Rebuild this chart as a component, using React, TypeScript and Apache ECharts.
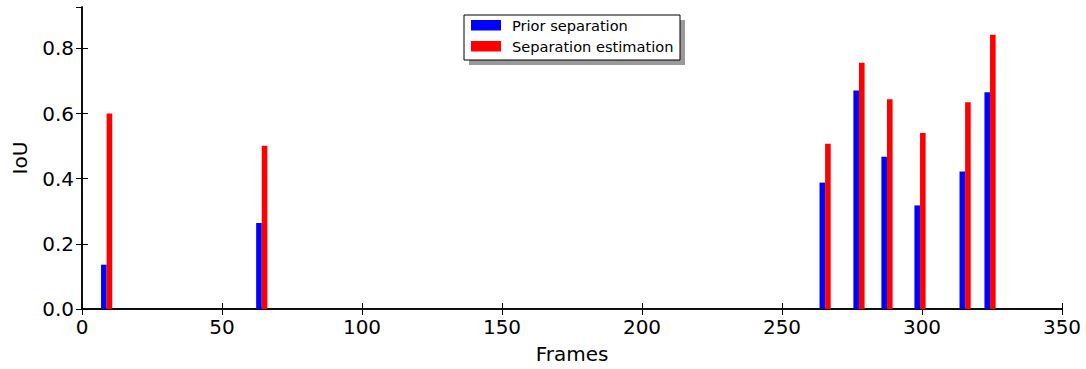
import React, { useEffect, useRef } from "react";
import * as echarts from "echarts";

const frames = [8.8, 64.2, 265.4, 277.5, 287.5, 299.3, 315.4, 324.3];
const priorSeparation = [0.136, 0.264, 0.388, 0.671, 0.467, 0.318, 0.422, 0.665];
const separationEstimation = [0.6, 0.501, 0.507, 0.756, 0.644, 0.54, 0.635, 0.842];
const seriesNames = ["Prior separation", "Separation estimation"];
const seriesColors = ["#0000ff", "#ff0000"];

const FONT = "DejaVu Sans";

export default function App() {
  const ref = useRef<HTMLDivElement>(null);
  useEffect(() => {
    if (!ref.current) return;
    const chart = echarts.init(ref.current, undefined, { renderer: "svg" });
    const tickCommon = {
      show: true,
      inside: true,
      length: 6,
      lineStyle: { color: "#000", width: 1 },
    };
    const lineCommon = { show: true, lineStyle: { color: "#000", width: 1.5 } };
    const legendX = 464;
    const legendY = 15;
    chart.setOption({
      animation: false,
      backgroundColor: "#fff",
      grid: { left: 82, right: 24, top: 7, bottom: 58, containLabel: false },
      xAxis: [
        {
          type: "value",
          min: 0,
          max: 350,
          interval: 50,
          position: "bottom",
          axisLine: lineCommon,
          axisTick: tickCommon,
          splitLine: { show: false },
          axisLabel: { color: "#000", fontSize: 20, fontFamily: FONT, margin: 8 },
          name: "Frames",
          nameLocation: "middle",
          nameGap: 35,
          nameTextStyle: { color: "#000", fontSize: 20, fontFamily: FONT },
        },
        {
          type: "value",
          min: 0,
          max: 350,
          interval: 50,
          position: "top",
          axisLine: lineCommon,
          axisTick: tickCommon,
          splitLine: { show: false },
          axisLabel: { show: false },
        },
      ],
      yAxis: [
        {
          type: "value",
          min: 0,
          max: 0.927,
          interval: 0.2,
          position: "left",
          axisLine: lineCommon,
          axisTick: tickCommon,
          splitLine: { show: false },
          axisLabel: {
            color: "#000",
            fontSize: 20,
            fontFamily: FONT,
            margin: 8,
            showMaxLabel: false,
            formatter: (v: number) => v.toFixed(1),
          },
          name: "IoU",
          nameLocation: "middle",
          nameGap: 52,
          nameRotate: 90,
          nameTextStyle: { color: "#000", fontSize: 20, fontFamily: FONT },
        },
        {
          type: "value",
          min: 0,
          max: 0.927,
          interval: 0.2,
          position: "right",
          axisLine: lineCommon,
          axisTick: tickCommon,
          splitLine: { show: false },
          axisLabel: { show: false },
        },
      ],
      series: [
        {
          name: seriesNames[0],
          type: "bar",
          xAxisIndex: 0,
          yAxisIndex: 0,
          barWidth: 5.6,
          barGap: "0%",
          itemStyle: { color: seriesColors[0] },
          data: frames.map((f, i) => [f, priorSeparation[i]]),
        },
        {
          name: seriesNames[1],
          type: "bar",
          xAxisIndex: 0,
          yAxisIndex: 0,
          barWidth: 5.6,
          barGap: "0%",
          itemStyle: { color: seriesColors[1] },
          data: frames.map((f, i) => [f, separationEstimation[i]]),
        },
      ],
      graphic: [
        {
          type: "rect",
          z: 100,
          shape: { x: legendX + 5, y: legendY + 5, width: 216, height: 45 },
          style: { fill: "#9a9a9a" },
        },
        {
          type: "rect",
          z: 101,
          shape: { x: legendX, y: legendY, width: 216, height: 45 },
          style: { fill: "#fff", stroke: "#000", lineWidth: 1 },
        },
        {
          type: "rect",
          z: 102,
          shape: { x: legendX + 7, y: legendY + 5, width: 30, height: 10.5 },
          style: { fill: seriesColors[0] },
        },
        {
          type: "rect",
          z: 102,
          shape: { x: legendX + 7, y: legendY + 26, width: 30, height: 10.5 },
          style: { fill: seriesColors[1] },
        },
        {
          type: "text",
          z: 102,
          x: legendX + 48,
          y: legendY + 10.5,
          style: {
            text: seriesNames[0],
            fontSize: 14.6,
            fontFamily: FONT,
            fill: "#000",
            verticalAlign: "middle",
          },
        },
        {
          type: "text",
          z: 102,
          x: legendX + 48,
          y: legendY + 31.5,
          style: {
            text: seriesNames[1],
            fontSize: 14.6,
            fontFamily: FONT,
            fill: "#000",
            verticalAlign: "middle",
          },
        },
      ],
    });
    return () => chart.dispose();
  }, []);
  return (
    <div
      ref={ref}
      style={{ position: "fixed", left: 0, top: 0, width: 1086, height: 369 }}
    />
  );
}
